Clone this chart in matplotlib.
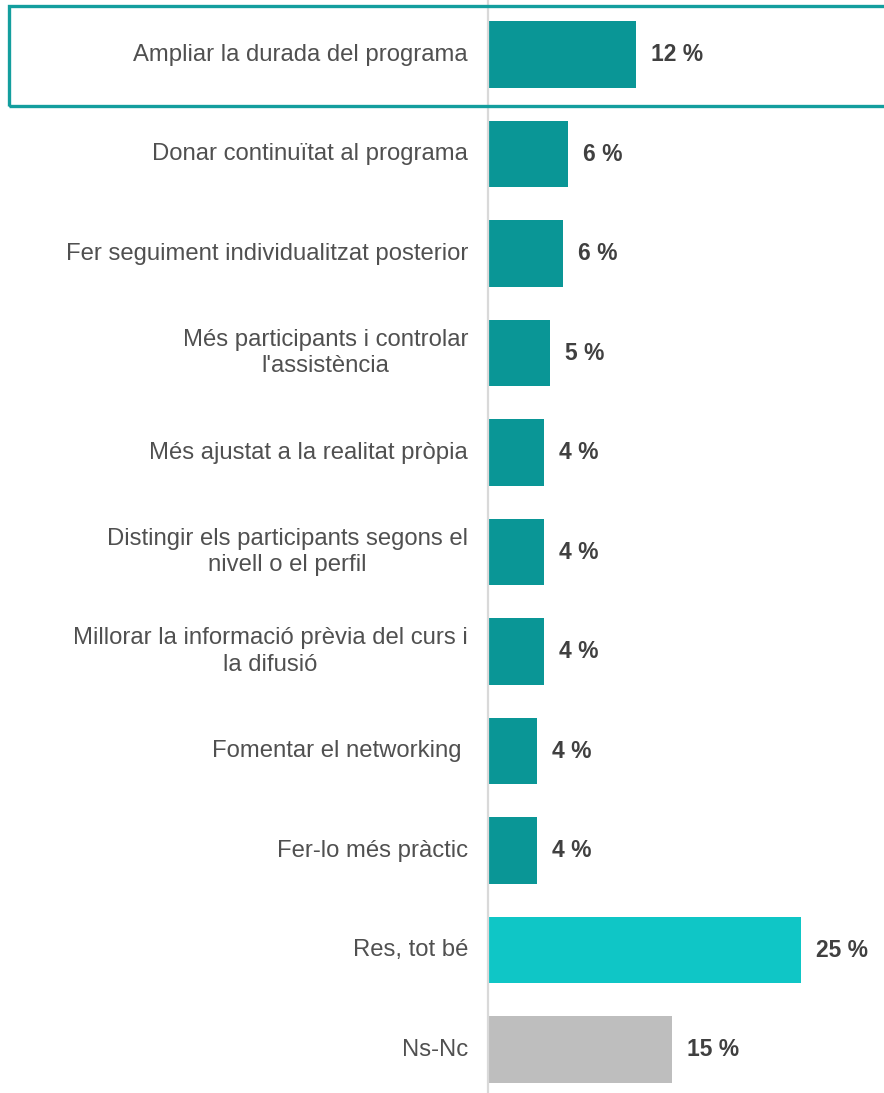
import matplotlib
matplotlib.use("Agg")
import matplotlib.pyplot as plt
from matplotlib.patches import Rectangle

plt.rcParams['font.family'] = ['Liberation Sans', 'DejaVu Sans']

# data
labels = [
    "Ampliar la durada del programa",
    "Donar continuïtat al programa",
    "Fer seguiment individualitzat posterior",
    "Més participants i controlar\nl'assistència",
    "Més ajustat a la realitat pròpia",
    "Distingir els participants segons el\nnivell o el perfil",
    "Millorar la informació prèvia del curs i\nla difusió",
    "Fomentar el networking ",
    "Fer-lo més pràctic",
    "Res, tot bé",
    "Ns-Nc",
]
values = [12.0, 6.45, 6.0, 5.0, 4.5, 4.5, 4.5, 3.9, 3.9, 25.5, 14.9]
value_text = ["12 %", "6 %", "6 %", "5 %", "4 %", "4 %", "4 %", "4 %", "4 %", "25 %", "15 %"]

TEAL = "#0A9696"
CYAN = "#0FC6C6"
GREY = "#BEBEBE"
colors = [TEAL] * 9 + [CYAN, GREY]

W, H = 884, 1093
fig = plt.figure(figsize=(W / 100, H / 100), dpi=100)
ax_left = 489 / W
ax = fig.add_axes([ax_left, 0, 1 - ax_left, 1])

px_per_unit = 12.25
step = 99.5
ypos = list(range(len(values)))
ax.barh(ypos, values, height=0.67, color=colors, edgecolor='none')

ax.set_xlim(0, (W - 489) / px_per_unit)
ax.set_ylim(10 + (H - 1049.5) / step, -54.5 / step)

for y, v, t in zip(ypos, values, value_text):
    ax.text(v + 15 / px_per_unit, y, t, ha='left', va='center',
            fontsize=16.5, fontweight='bold', color='#404040')

for y, lab in zip(ypos, labels):
    ax.text(-21 / px_per_unit, y, lab, ha='right', va='center',
            multialignment='center', fontsize=17.2, color='#505050',
            linespacing=1.24, clip_on=False)

for s in ax.spines.values():
    s.set_visible(False)
ax.set_xticks([])
ax.set_yticks([])
ax.axvline(-1 / px_per_unit, color='#D9D9D9', lw=1.6, clip_on=False)

# highlight frame around the first item
fig.patches.append(Rectangle((9 / W, 1 - 106 / H), 1.0, 100 / H,
                             transform=fig.transFigure, fill=False,
                             edgecolor='#139E9E', lw=2.4))

fig.savefig("out.png", dpi=100)
